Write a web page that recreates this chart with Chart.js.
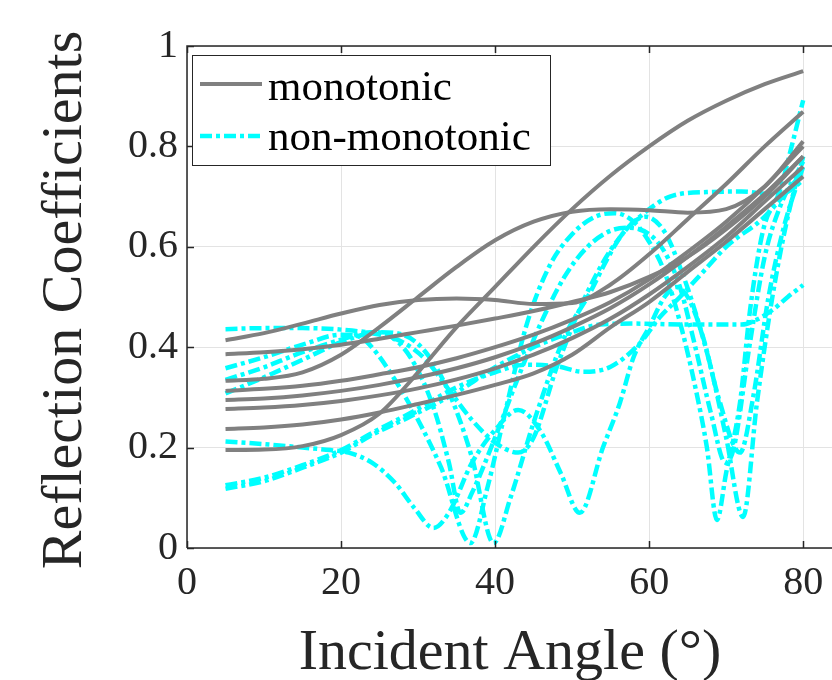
<!DOCTYPE html>
<html>
<head>
<meta charset="utf-8">
<script src="https://cdn.jsdelivr.net/npm/chart.js@4/dist/chart.umd.min.js"></script>
<style>
  html, body { margin: 0; padding: 0; background: #fff; overflow: hidden; }
  #wrap { width: 840px; height: 680px; }
</style>
</head>
<body>
<div id="wrap"><canvas id="chart" width="840" height="680"></canvas></div>
<script>
  // legend names
  const seriesNames = ['monotonic', 'non-monotonic'];
  const xTicks = [0, 20, 40, 60, 80];
  const yTicks = [0, 0.2, 0.4, 0.6, 0.8, 1];

  // monotonic curves, all sampled on the same angles
  const grayAngles = [5, 10, 15, 20, 25, 30, 35, 40, 45, 50, 55, 60, 65, 70, 75, 80];
  const monoA = [0.195, 0.196, 0.203, 0.225, 0.268, 0.35, 0.44, 0.52, 0.60, 0.675, 0.742, 0.80, 0.851, 0.891, 0.924, 0.95];
  const monoB = [0.414, 0.428, 0.447, 0.467, 0.484, 0.494, 0.497, 0.494, 0.486, 0.488, 0.525, 0.585, 0.655, 0.725, 0.80, 0.869];
  const monoC = [0.333, 0.337, 0.35, 0.385, 0.44, 0.50, 0.56, 0.613, 0.65, 0.67, 0.675, 0.673, 0.668, 0.675, 0.72, 0.81];
  const monoD = [0.386, 0.39, 0.396, 0.405, 0.417, 0.43, 0.443, 0.457, 0.472, 0.49, 0.51, 0.54, 0.58, 0.635, 0.70, 0.78];
  const monoE = [0.313, 0.317, 0.323, 0.333, 0.346, 0.36, 0.378, 0.40, 0.425, 0.455, 0.49, 0.535, 0.59, 0.65, 0.72, 0.80];
  const monoF = [0.295, 0.298, 0.304, 0.313, 0.325, 0.34, 0.358, 0.38, 0.407, 0.44, 0.478, 0.525, 0.58, 0.64, 0.705, 0.78];
  const monoG = [0.277, 0.28, 0.285, 0.293, 0.304, 0.318, 0.336, 0.358, 0.385, 0.418, 0.457, 0.505, 0.56, 0.62, 0.69, 0.76];
  const monoH = [0.237, 0.24, 0.246, 0.256, 0.27, 0.287, 0.305, 0.325, 0.348, 0.385, 0.44, 0.49, 0.55, 0.61, 0.675, 0.74];

  // non-monotonic curves, each with its own angles
  const nonA_x = [5, 10, 15, 20, 25, 28, 31, 34, 37, 40, 43, 45, 48, 52, 56, 59.5, 62, 64, 66, 68, 70, 72.2, 74, 76, 78, 80];
  const nonA_y = [0.436, 0.438, 0.438, 0.435, 0.425, 0.41, 0.375, 0.315, 0.255, 0.21, 0.19, 0.22, 0.36, 0.51, 0.615, 0.66, 0.63, 0.56, 0.47, 0.36, 0.22, 0.062, 0.29, 0.50, 0.66, 0.78];
  const nonB_x = [5, 10, 15, 20, 22.5, 24, 27, 30, 33, 36.8, 39, 41, 44, 47, 50, 53, 55.5, 58, 60, 62, 64, 66, 67.5, 68.8, 70, 71.8, 73.1, 74.8, 77, 78.5, 80];
  const nonB_y = [0.358, 0.38, 0.405, 0.425, 0.42, 0.40, 0.335, 0.255, 0.16, 0.01, 0.12, 0.25, 0.44, 0.56, 0.625, 0.66, 0.667, 0.65, 0.61, 0.55, 0.45, 0.32, 0.2, 0.056, 0.15, 0.29, 0.474, 0.633, 0.713, 0.80, 0.892];
  const nonC_x = [5, 10, 15, 20, 24, 26, 29, 32, 34, 35.5, 37, 40, 43, 46, 49, 52, 55, 57.5, 60, 62, 64, 66, 68, 69.9, 71, 73, 75, 77, 80];
  const nonC_y = [0.335, 0.36, 0.39, 0.415, 0.43, 0.425, 0.38, 0.28, 0.17, 0.07, 0.11, 0.22, 0.34, 0.45, 0.54, 0.60, 0.632, 0.638, 0.625, 0.59, 0.52, 0.40, 0.27, 0.17, 0.2, 0.40, 0.58, 0.68, 0.77];
  const nonD_x = [5, 10, 15, 20, 25, 28, 31, 34, 37, 39.8, 42, 45, 49, 52.3, 54.5, 56.5, 58.8, 62.7, 67.5, 72, 76, 78, 80];
  const nonD_y = [0.308, 0.34, 0.375, 0.41, 0.43, 0.425, 0.39, 0.31, 0.18, 0.01, 0.1, 0.25, 0.42, 0.508, 0.574, 0.625, 0.66, 0.70, 0.709, 0.71, 0.705, 0.71, 0.733];
  const nonE_x = [5, 10, 15, 18.6, 21, 24, 27, 29.5, 32, 34, 37, 40, 43, 46, 48.5, 51, 54, 56.2, 58, 60, 62, 63.5, 65, 67, 69, 71.8, 73.5, 75.5, 77.5, 80];
  const nonE_y = [0.212, 0.207, 0.2, 0.195, 0.19, 0.17, 0.13, 0.08, 0.04, 0.07, 0.17, 0.235, 0.275, 0.23, 0.15, 0.07, 0.2, 0.289, 0.381, 0.44, 0.5, 0.52, 0.5, 0.42, 0.3, 0.19, 0.3, 0.5, 0.64, 0.76];
  const nonF_x = [5, 10, 15, 20, 24, 29, 35, 40, 44, 48, 51.4, 55, 58.8, 61.4, 64, 67, 70, 75, 80];
  const nonF_y = [0.125, 0.14, 0.165, 0.195, 0.229, 0.269, 0.32, 0.35, 0.365, 0.362, 0.351, 0.361, 0.408, 0.46, 0.50, 0.55, 0.60, 0.66, 0.75];
  const nonG_x = [5, 10, 15, 20, 24, 29, 35, 40, 45, 50, 53.6, 58, 65, 72, 74, 76, 78, 80];
  const nonG_y = [0.118, 0.133, 0.16, 0.19, 0.225, 0.262, 0.31, 0.36, 0.40, 0.43, 0.445, 0.447, 0.445, 0.445, 0.455, 0.474, 0.50, 0.524];

  const grayColor = '#808080';
  const cyanColor = '#00ffff';
  const axisColor = '#262626';
  const cyanDash = [12, 4, 4, 4];
  const fontFam = '"Liberation Serif", "DejaVu Serif", serif';

  const toPts = (xs, ys) => xs.map((x, i) => ({ x: x, y: ys[i] }));

  const grayCurves = [monoA, monoB, monoC, monoD, monoE, monoF, monoG, monoH];
  const cyanCurves = [[nonA_x, nonA_y], [nonB_x, nonB_y], [nonC_x, nonC_y], [nonD_x, nonD_y],
                      [nonE_x, nonE_y], [nonF_x, nonF_y], [nonG_x, nonG_y]];

  const datasets = [];
  grayCurves.forEach(ys => {
    datasets.push({
      label: seriesNames[0], data: toPts(grayAngles, ys),
      borderColor: grayColor, borderWidth: 4, pointRadius: 0,
      cubicInterpolationMode: 'monotone', borderJoinStyle: 'round'
    });
  });
  cyanCurves.forEach(([xs, ys]) => {
    datasets.push({
      label: seriesNames[1], data: toPts(xs, ys),
      borderColor: cyanColor, borderWidth: 4.5, pointRadius: 0,
      borderDash: cyanDash, cubicInterpolationMode: 'monotone', borderJoinStyle: 'round'
    });
  });

  // frame, inner ticks, axis titles and the legend box
  const decorations = {
    id: 'decorations',
    afterDatasetsDraw(chart) {
      const { ctx, chartArea: a, scales } = chart;
      const xs = scales.x, ys = scales.y;
      ctx.save();
      ctx.strokeStyle = axisColor;
      ctx.lineWidth = 1.5;
      ctx.beginPath();
      ctx.moveTo(a.left, a.bottom); ctx.lineTo(a.left, a.top); ctx.lineTo(a.right + 2, a.top);
      ctx.moveTo(a.left, a.bottom); ctx.lineTo(a.right + 2, a.bottom);
      xTicks.forEach(v => {
        const px = Math.round(xs.getPixelForValue(v)) + 0.5;
        ctx.moveTo(px, a.bottom); ctx.lineTo(px, a.bottom - 7);
        ctx.moveTo(px, a.top); ctx.lineTo(px, a.top + 7);
      });
      yTicks.forEach(v => {
        const py = Math.round(ys.getPixelForValue(v)) + 0.5;
        ctx.moveTo(a.left, py); ctx.lineTo(a.left + 7, py);
      });
      ctx.stroke();

      // legend
      const bx = 192.5, by = 55.5, bw = 358, bh = 110;
      ctx.fillStyle = '#fff';
      ctx.fillRect(bx, by, bw, bh);
      ctx.strokeStyle = axisColor;
      ctx.lineWidth = 1;
      ctx.strokeRect(bx, by, bw, bh);
      ctx.lineWidth = 4;
      ctx.strokeStyle = grayColor;
      ctx.beginPath(); ctx.moveTo(200, 84); ctx.lineTo(262, 84); ctx.stroke();
      ctx.strokeStyle = cyanColor;
      ctx.lineWidth = 4.5;
      ctx.setLineDash(cyanDash);
      ctx.beginPath(); ctx.moveTo(200, 136); ctx.lineTo(262, 136); ctx.stroke();
      ctx.setLineDash([]);
      ctx.fillStyle = '#000';
      ctx.font = '43px ' + fontFam;
      ctx.textAlign = 'left';
      ctx.textBaseline = 'alphabetic';
      ctx.fillText(seriesNames[0], 268, 100);
      ctx.fillText(seriesNames[1], 268, 150);

      // axis titles
      ctx.fillStyle = axisColor;
      ctx.font = '58px ' + fontFam;
      ctx.textAlign = 'center';
      ctx.fillText('Incident Angle (°)', 510, 669);
      ctx.translate(81, 300);
      ctx.rotate(-Math.PI / 2);
      ctx.fillText('Reflection Coefficients', 0, 0);
      ctx.restore();
    }
  };

  new Chart(document.getElementById('chart'), {
    type: 'line',
    data: { datasets },
    options: {
      responsive: false,
      animation: false,
      devicePixelRatio: 1,
      layout: { padding: { top: 46, right: 6, left: 0, bottom: 0 } },
      plugins: { legend: { display: false }, tooltip: { enabled: false } },
      scales: {
        x: {
          type: 'linear', min: 0, max: 84,
          afterFit: s => { s.height = 132; },
          afterBuildTicks: s => { s.ticks = xTicks.map(v => ({ value: v })); },
          ticks: { font: { family: fontFam, size: 40 }, color: axisColor, padding: 11, maxRotation: 0,
                   callback: v => String(v) },
          grid: { color: '#e3e3e3', lineWidth: 1, drawTicks: false },
          border: { display: false }
        },
        y: {
          type: 'linear', min: 0, max: 1,
          afterFit: s => { s.width = 187; },
          afterBuildTicks: s => { s.ticks = yTicks.map(v => ({ value: v })); },
          ticks: { font: { family: fontFam, size: 40 }, color: axisColor, padding: 9,
                   callback: v => String(v) },
          grid: { color: '#e3e3e3', lineWidth: 1, drawTicks: false },
          border: { display: false }
        }
      }
    },
    plugins: [decorations]
  });
</script>
</body>
</html>
